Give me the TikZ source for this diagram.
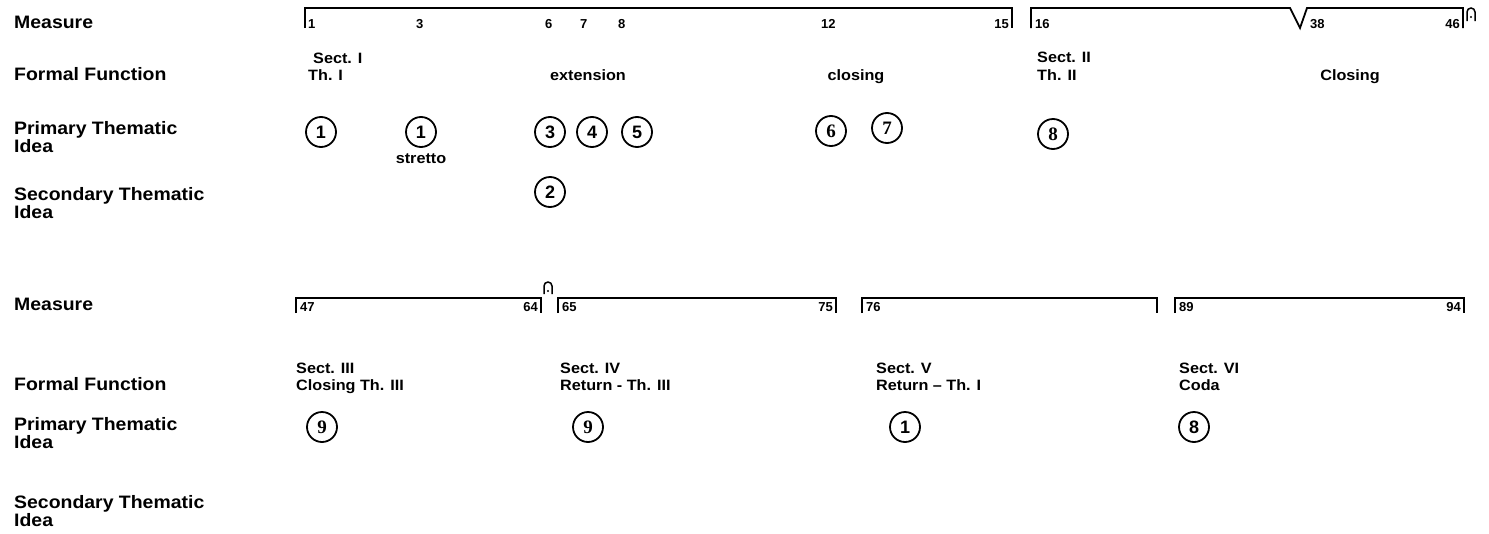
\documentclass[tikz,border=0pt]{standalone}
\usepackage{fontspec}
\setmainfont{Liberation Sans}[FakeStretch=1.08]
\newfontfamily\serfam{Liberation Serif}
\newfontfamily\numfam{Liberation Sans}
\newcommand\labf{\fontsize{18}{16}\selectfont\bfseries}
\newcommand\secf{\fontsize{15}{16}\selectfont\bfseries}
\newcommand\numf{\numfam\fontsize{13}{13}\selectfont\bfseries}
\newcommand\circf{\numfam\fontsize{18}{18}\selectfont\bfseries}
\newcommand\circsf{\serfam\fontsize{19}{19}\selectfont\bfseries}
\begin{document}
\begin{tikzpicture}[x=1pt,y=-1pt,
  lab/.style={anchor=base west,font=\labf,inner sep=0,align=left},
  sec/.style={anchor=base west,font=\secf,inner sep=0},
  secc/.style={anchor=base,font=\secf,inner sep=0},
  numl/.style={anchor=base west,font=\numf,inner sep=0},
  numr/.style={anchor=base east,font=\numf,inner sep=0},
  theme/.style={circle,draw,line width=1.8pt,minimum size=30pt,inner sep=0,font=\circf},
  themes/.style={theme,font=\circsf},
  bar/.style={line width=1.8pt,line join=miter},
  ferm/.style={line width=1.5pt}]
\useasboundingbox (0,0) rectangle (1489,533);

% ---------- upper system ----------
\node[lab] (m1) at (14,28) {Measure};
\node[lab] (f1) at (14,80) {Formal Function};
\node[lab] (p1) at (14,152) {Primary Thematic\\Idea};
\node[lab] (s1) at (14,218) {Secondary Thematic\\Idea};

\draw[bar] (305,28) -- (305,8) -- (1012,8) -- (1012,28);
\draw[bar] (1031,28) -- (1031,8) -- (1290,8) -- (1300,28) -- (1307,8) -- (1463,8) -- (1463,28);
\draw[ferm] (1467,21) -- (1467,12) arc (180:360:4) -- (1475,21);
\fill (1471,17) circle (1.1pt);

\node[numl] (n1) at (308,28) {1};
\node[numl] (n3) at (416,28) {3};
\node[numl] (n6) at (545,28) {6};
\node[numl] (n7) at (580,28) {7};
\node[numl] (n8) at (618,28) {8};
\node[numl] (n12) at (821,28) {12};
\node[numr] (n15) at (1009,28) {15};
\node[numl] (n16) at (1035,28) {16};
\node[numl] (n38) at (1310,28) {38};
\node[numr] (n46) at (1460,28) {46};

\node[sec] (sI) at (313,63) {Sect. I};
\node[sec] (thI) at (308,80) {Th. I};
\node[secc] (ext) at (588,80) {extension};
\node[secc] (clo) at (856,80) {closing};
\node[sec] (sII) at (1037,62) {Sect. II};
\node[sec] (thII) at (1037,80) {Th. II};
\node[secc] (Clo) at (1350,80) {Closing};

\node[theme] (c1a) at (321,132) {1};
\node[theme] (c1b) at (421,132) {1};
\node[secc] (str) at (421,163) {stretto};
\node[theme] (c3) at (550,132) {3};
\node[theme] (c4) at (592,132) {4};
\node[theme] (c5) at (637,132) {5};
\node[themes] (c6) at (831,131) {6};
\node[themes] (c7) at (887,128) {7};
\node[themes] (c8) at (1053,134) {8};
\node[theme] (c2) at (550,192) {2};

% ---------- lower system ----------
\node[lab] (m2) at (14,310) {Measure};
\node[lab] (f2) at (14,390) {Formal Function};
\node[lab] (p2) at (14,448) {Primary Thematic\\Idea};
\node[lab] (s2) at (14,526) {Secondary Thematic\\Idea};

\draw[bar] (296,313) -- (296,298) -- (541,298) -- (541,313);
\draw[bar] (558,313) -- (558,298) -- (836,298) -- (836,313);
\draw[bar] (862,313) -- (862,298) -- (1157,298) -- (1157,313);
\draw[bar] (1175,313) -- (1175,298) -- (1464,298) -- (1464,313);
\draw[ferm] (544,294) -- (544,286) arc (180:360:4) -- (552,294);
\fill (548,291) circle (1.1pt);

\node[numl] (n47) at (300,311) {47};
\node[numr] (n64) at (538,311) {64};
\node[numl] (n65) at (562,311) {65};
\node[numr] (n75) at (833,311) {75};
\node[numl] (n76) at (866,311) {76};
\node[numl] (n89) at (1179,311) {89};
\node[numr] (n94) at (1461,311) {94};

\node[sec] (sIII) at (296,373) {Sect. III};
\node[sec] (thIII) at (296,390) {Closing Th. III};
\node[sec] (sIV) at (560,373) {Sect. IV};
\node[sec] (thIV) at (560,390) {Return - Th. III};
\node[sec] (sV) at (876,373) {Sect. V};
\node[sec] (thV) at (876,390) {Return -- Th. I};
\node[sec] (sVI) at (1179,373) {Sect. VI};
\node[sec] (thVI) at (1179,390) {Coda};

\node[themes] (c9a) at (322,427) {9};
\node[themes] (c9b) at (588,427) {9};
\node[theme] (c1c) at (905,427) {1};
\node[theme] (c8b) at (1194,427) {8};
\end{tikzpicture}
\end{document}
